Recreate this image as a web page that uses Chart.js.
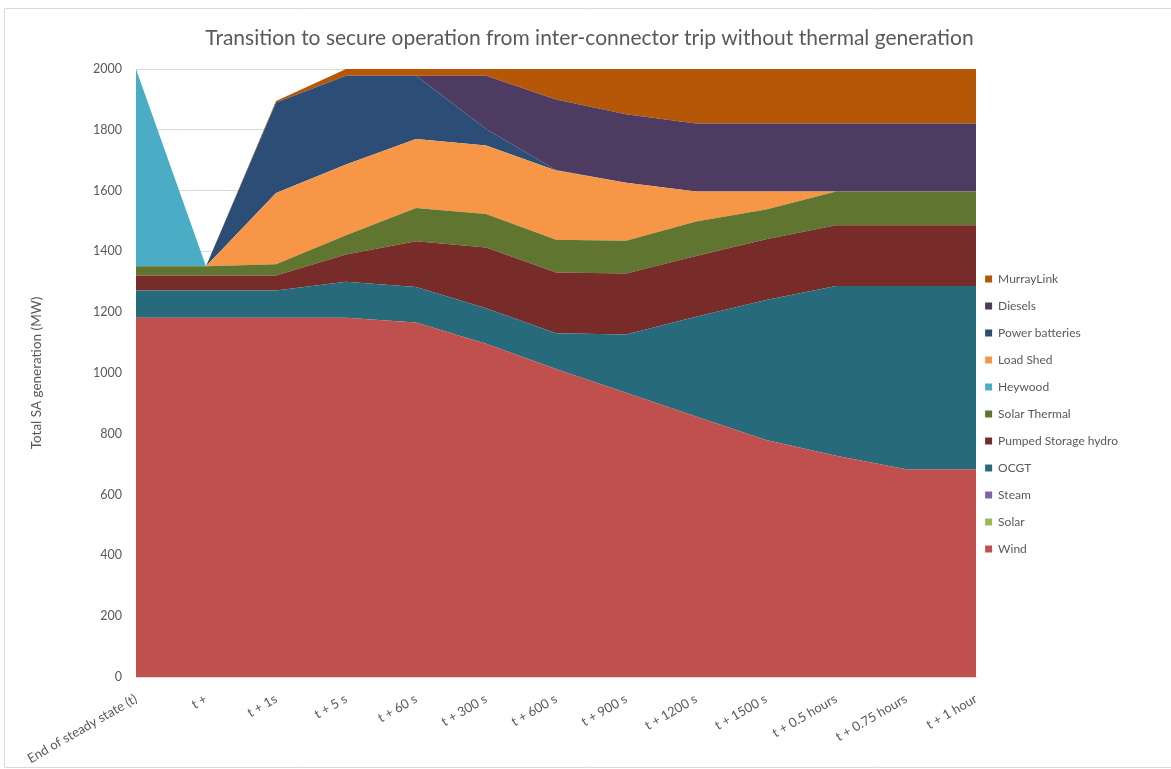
<!DOCTYPE html>
<html>
<head>
<meta charset="utf-8">
<script src="https://cdn.jsdelivr.net/npm/chart.js@4.4.1/dist/chart.umd.min.js"></script>
<style>
body { margin: 0; background: #fff; }
</style>
</head>
<body>
<canvas id="myChart" width="1171" height="769"></canvas>
<script>
const categories = ['End of steady state (t)', 't +', 't + 1s', 't + 5 s', 't + 60 s', 't + 300 s', 't + 600 s', 't + 900 s', 't + 1200 s', 't + 1500 s', 't + 0.5 hours', 't + 0.75 hours', 't + 1 hour'];

const wind = [1182, 1182, 1182, 1182, 1166, 1096, 1013, 935, 857, 780, 728, 683, 683];
const solar = [0, 0, 0, 0, 0, 0, 0, 0, 0, 0, 0, 0, 0];
const steam = [0, 0, 0, 0, 0, 0, 0, 0, 0, 0, 0, 0, 0];
const ocgt = [89, 89, 89, 118, 117, 117, 118, 192, 328, 460, 558, 603, 603];
const pumpedHydro = [50, 50, 50, 90, 150, 200, 200, 200, 200, 200, 200, 200, 200];
const solarThermal = [30, 30, 37, 63, 110, 110, 107, 108, 113, 98, 111, 111, 111];
const heywood = [649, 0, 0, 0, 0, 0, 0, 0, 0, 0, 0, 0, 0];
const loadShed = [0, 0, 234, 233, 227, 225, 228, 191, 99, 59, 0, 0, 0];
const batteries = [0, 0, 298, 292, 208, 55, 2, 0, 0, 0, 0, 0, 0];
const diesels = [0, 0, 0, 0, 0, 175, 232, 225, 224, 224, 224, 224, 224];
const murrayLink = [0, 0, 5, 22, 22, 22, 100, 149, 179, 179, 179, 179, 179];

const yTicks = [0, 200, 400, 600, 800, 1000, 1200, 1400, 1600, 1800, 2000];

const font = 'Lato, "Open Sans", sans-serif';
const grey = '#595959';

const area = (label, data, color, first) => ({
	label: label,
	data: data,
	backgroundColor: color,
	borderColor: color,
	borderWidth: 0,
	pointRadius: 0,
	pointHoverRadius: 0,
	tension: 0,
	fill: first ? 'origin' : '-1'
});

// light frame round the chart, like the Excel chart border
const frame = {
	id: 'frame',
	beforeDraw(chart) {
		const c = chart.ctx;
		c.save();
		c.fillStyle = '#fff';
		c.fillRect(0, 0, chart.width, chart.height);
		c.strokeStyle = '#d9d9d9';
		c.lineWidth = 1;
		c.beginPath();
		c.moveTo(4.5, chart.height - 1.5);
		c.lineTo(4.5, 8.5);
		c.lineTo(chart.width, 8.5);
		c.moveTo(4.5, chart.height - 1.5);
		c.lineTo(chart.width, chart.height - 1.5);
		c.stroke();
		c.restore();
	}
};

// pull the legend a little closer to the plot
const legendShift = {
	id: 'legendShift',
	afterLayout(chart) {
		chart.legend.left -= 6;
		chart.legend.right -= 6;
	}
};

const ctx = document.getElementById('myChart').getContext('2d');
let myChart = new Chart(ctx, {
	type: 'line',
	data: {
		labels: categories,
		datasets: [
			area('Wind', wind, '#c0504d', true),
			area('Solar', solar, '#9bbb59'),
			area('Steam', steam, '#8064a2'),
			area('OCGT', ocgt, '#276a7c'),
			area('Pumped Storage hydro', pumpedHydro, '#772c2a'),
			area('Solar Thermal', solarThermal, '#5f7530'),
			area('Heywood', heywood, '#4bacc6'),
			area('Load Shed', loadShed, '#f79646'),
			area('Power batteries', batteries, '#2c4d75'),
			area('Diesels', diesels, '#4d3b62'),
			area('MurrayLink', murrayLink, '#b65708')
		]
	},
	options: {
		responsive: false,
		animation: false,
		layout: { padding: { left: 45, right: 37 } },
		plugins: {
			tooltip: { enabled: false },
			title: {
				display: true,
				text: 'Transition to secure operation from inter-connector trip without thermal generation',
				color: grey,
				font: { family: font, size: 21, weight: 'normal' },
				padding: { top: 25.4, bottom: 18.4 }
			},
			legend: {
				position: 'right',
				reverse: true,
				title: { display: true, text: ' ', padding: { top: 0, bottom: 44.6 } },
				labels: {
					boxWidth: 7,
					boxHeight: 7,
					padding: 15,
					color: grey,
					font: { family: font, size: 12 }
				}
			}
		},
		scales: {
			x: {
				grid: { display: false },
				border: { color: '#d9d9d9' },
				ticks: {
					color: grey,
					font: { family: font, size: 13 },
					minRotation: 30,
					maxRotation: 30,
					autoSkip: false,
					padding: 6
				},
				afterFit: s => { s.height = 92; }
			},
			y: {
				stacked: true,
				min: 0,
				max: 2000,
				afterBuildTicks: s => { s.ticks = yTicks.map(v => ({ value: v })); },
				grid: { color: '#d9d9d9', drawTicks: false },
				border: { display: false },
				ticks: {
					color: grey,
					font: { family: font, size: 12.5 },
					padding: 14,
					callback: v => String(v)
				},
				title: {
					display: true,
					text: 'Total SA generation (MW)',
					color: grey,
					font: { family: font, size: 13.5 },
					padding: { top: -16.1, bottom: 0 }
				},
				afterFit: s => { s.width = 91; }
			}
		}
	},
	plugins: [frame, legendShift]
});
</script>
</body>
</html>
